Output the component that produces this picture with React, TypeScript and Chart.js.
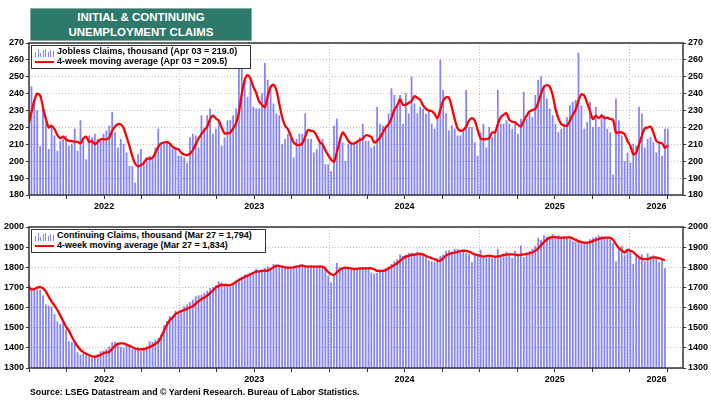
import React, { useEffect, useRef } from 'react';
import { Chart, registerables } from 'chart.js';

Chart.register(...registerables);

const FONT = 'Arial, "Liberation Sans", Helvetica, sans-serif';
const BAR_COLOR = 'rgba(118,118,255,0.9)';
const LINE_COLOR = '#ff0000';
const GRID_COLOR = '#bdbdbd';

// weekly observations, first week ending 2021-12-31
const firstWeekUTC = Date.UTC(2021, 11, 31);
const yearLabels = [2022, 2023, 2024, 2025, 2026];
const xMin = 2022;
const xMax = 2026.353;

const topYTicks = [180, 190, 200, 210, 220, 230, 240, 250, 260, 270];
const bottomYTicks = [1300, 1400, 1500, 1600, 1700, 1800, 1900, 2000];

// Initial jobless claims, thousand (weekly)
const joblessClaims = [
  247, 244, 236, 230, 209, 232, 222, 207, 220, 215,
  206, 212, 213, 215, 209, 210, 219, 206, 224, 212,
  201, 215, 214, 216, 213, 213, 216, 218, 221, 229,
  217, 208, 213, 210, 205, 197, 197, 187, 204, 207,
  200, 202, 203, 201, 208, 219, 209, 210, 211, 210,
  207, 207, 203, 203, 202, 199, 214, 216, 215, 208,
  227, 219, 227, 231, 216, 219, 223, 209, 214, 224,
  224, 227, 231, 258, 257, 249, 238, 248, 232, 231,
  231, 240, 258, 248, 245, 234, 228, 227, 210, 213,
  216, 214, 202, 213, 216, 216, 228, 213, 213, 205,
  207, 213, 213, 198, 198, 194, 221, 225, 214, 211,
  200, 210, 211, 210, 211, 214, 222, 212, 212, 208,
  209, 232, 222, 221, 221, 228, 243, 239, 233, 239,
  222, 240, 228, 250, 234, 228, 232, 231, 228, 229,
  222, 219, 226, 260, 242, 228, 218, 221, 219, 215,
  215, 219, 242, 220, 220, 211, 203, 217, 222, 208,
  220, 214, 217, 242, 222, 222, 224, 222, 219, 222,
  216, 225, 241, 225, 228, 226, 239, 248, 250, 245,
  237, 231, 227, 222, 217, 219, 222, 226, 233, 235,
  236, 264, 233, 219, 223, 235, 220, 232, 220, 228,
  227, 219, 217, 192, 237, 224, 215, 200, 205, 199,
  210, 209, 232, 228, 208, 213, 214, 211, 205, 210,
  203, 219, 219,
];

// 4-week moving average of initial claims
const joblessMA = [
  222, 229, 236, 240, 239, 232, 225, 220, 221, 219,
  215.5, 213.5, 214.5, 213, 212, 212, 211.5, 211.5, 210.5, 213.5,
  214.5, 211.5, 212, 210, 211.5, 213, 213, 213, 214, 218,
  220.5, 222, 221.8, 219.5, 214.5, 209, 203, 198.5, 197, 197.7,
  199, 201.5, 201.5, 202, 205, 208.5, 210.5, 211, 211.5, 210.5,
  208.5, 207.5, 207, 205, 204, 203.6, 204.5, 206.5, 210, 213.5,
  216, 218.5, 220.5, 225, 227, 225.3, 224, 220, 216.5, 216.5,
  217, 219.5, 222.4, 229, 240, 248, 251, 249, 244, 240.5,
  235.3, 233.5, 232, 238.5, 244, 245.3, 242, 234, 226, 221,
  219, 215, 211, 209.8, 209.6, 210.5, 214.5, 218.5, 218, 217.6,
  215, 211.5, 210, 206.5, 203.5, 201, 199.7, 205.5, 212, 217,
  215, 212, 210.6, 210.6, 211.5, 212.6, 213.2, 215.3, 215.2, 214.3,
  211, 212, 214, 217, 220, 221.8, 225.5, 230.5, 233, 236.8,
  233.3, 233.5, 234.5, 235.7, 238.5, 237.5, 236.3, 233, 231, 230,
  229.7, 228, 225.5, 230.5, 236, 237.8, 237.6, 232, 225, 219.5,
  218, 218.5, 220.5, 224, 225.5, 224, 218.5, 213.5, 213, 213.2,
  213.6, 217, 217.1, 222, 226, 227.5, 228.4, 224.5, 223.4, 223,
  221.5, 220.5, 224, 227, 229.5, 230.3, 231, 234.5, 240, 244,
  245.1, 244.2, 239.5, 231, 225.5, 222, 221.2, 221, 224, 227.5,
  230.5, 236, 239.6, 238.8, 234.5, 229.5, 225, 227, 225.5, 227,
  225.5, 225.8, 225, 224.4, 217, 217.1, 217.1, 216, 212, 209,
  204.1, 205, 210, 215, 219.5, 219.9, 220.5, 217, 212, 211,
  210.6, 208, 209.5,
];

// Continuing claims, thousand (weekly)
const continuingClaims = [
  1720, 1695, 1692, 1687, 1687, 1659, 1613, 1609, 1604, 1566,
  1530, 1517, 1530, 1489, 1431, 1427, 1422, 1376, 1364, 1373,
  1360, 1356, 1348, 1356, 1364, 1381, 1384, 1394, 1406, 1426,
  1427, 1419, 1403, 1398, 1414, 1401, 1393, 1393, 1401, 1384,
  1394, 1406, 1431, 1427, 1439, 1447, 1464, 1510, 1530, 1555,
  1555, 1583, 1580, 1583, 1604, 1613, 1626, 1638, 1654, 1659,
  1662, 1671, 1682, 1695, 1700, 1709, 1729, 1724, 1712, 1707,
  1715, 1712, 1729, 1740, 1748, 1762, 1765, 1762, 1775, 1791,
  1778, 1787, 1795, 1803, 1795, 1815, 1803, 1798, 1798, 1795,
  1803, 1795, 1798, 1806, 1811, 1815, 1808, 1795, 1808, 1803,
  1803, 1808, 1803, 1803, 1758, 1724, 1758, 1820, 1798, 1795,
  1795, 1798, 1795, 1790, 1795, 1791, 1798, 1800, 1795, 1772,
  1768, 1770, 1780, 1787, 1795, 1803, 1815, 1828, 1840, 1862,
  1855, 1860, 1870, 1872, 1868, 1875, 1870, 1860, 1848, 1833,
  1828, 1826, 1844, 1855, 1862, 1880, 1883, 1875, 1890, 1890,
  1880, 1885, 1868, 1864, 1825, 1858, 1860, 1886, 1855, 1850,
  1858, 1845, 1855, 1890, 1858, 1865, 1875, 1870, 1844, 1880,
  1860, 1907, 1850, 1868, 1880, 1890, 1905, 1945, 1935, 1958,
  1950, 1945, 1963, 1945, 1958, 1948, 1952, 1942, 1938, 1930,
  1925, 1928, 1918, 1922, 1920, 1938, 1945, 1950, 1958, 1952,
  1945, 1940, 1935, 1920, 1828, 1886, 1905, 1861, 1890, 1880,
  1815, 1853, 1845, 1862, 1830, 1868, 1853, 1858, 1848, 1825,
  1840, 1794,
];

// 4-week moving average of continuing claims
const continuingMA = [
  1704, 1690, 1692, 1699, 1702, 1695, 1679, 1654, 1630, 1610,
  1588, 1560, 1533, 1505, 1484, 1455, 1430, 1408, 1390, 1379,
  1370, 1364, 1358, 1356, 1360, 1365, 1373, 1377, 1381, 1395,
  1410, 1420, 1422, 1422, 1416, 1410, 1403, 1397, 1393, 1393,
  1394, 1398, 1403, 1411, 1420, 1430, 1454, 1485, 1515, 1538,
  1550, 1568, 1576, 1583, 1588, 1593, 1602, 1606, 1620, 1632,
  1642, 1650, 1659, 1672, 1685, 1700, 1708, 1712, 1712, 1712,
  1712, 1718, 1728, 1737, 1745, 1752, 1758, 1766, 1772, 1778,
  1780, 1782, 1783, 1783, 1792, 1800, 1808, 1806, 1803, 1800,
  1798, 1798, 1800, 1803, 1806, 1808, 1805, 1803, 1803, 1803,
  1803, 1803, 1803, 1792, 1776, 1765, 1762, 1775, 1787, 1795,
  1798, 1796, 1795, 1791, 1792, 1794, 1795, 1795, 1795, 1795,
  1790, 1782, 1782, 1782, 1786, 1794, 1802, 1812, 1820, 1832,
  1844, 1853, 1857, 1861, 1863, 1866, 1866, 1864, 1856, 1850,
  1845, 1840, 1833, 1833, 1846, 1858, 1866, 1870, 1873, 1877,
  1880, 1883, 1881, 1878, 1871, 1864, 1860, 1856, 1853, 1856,
  1858, 1855, 1853, 1854, 1857, 1861, 1863, 1864, 1864, 1863,
  1861, 1862, 1864, 1867, 1869, 1875, 1882, 1893, 1910, 1925,
  1938, 1947, 1950, 1950, 1947, 1947, 1947, 1948, 1949, 1943,
  1936, 1930, 1925, 1922, 1922, 1925, 1930, 1936, 1940, 1945,
  1947, 1947, 1946, 1937, 1915, 1895, 1884, 1873, 1886, 1882,
  1876, 1862, 1850, 1841, 1841, 1841, 1846, 1849, 1848, 1845,
  1840, 1834,
];

const DAY = 86400000;
function weekX(k: number): number {
  const ms = firstWeekUTC + k * 7 * DAY;
  const y = new Date(ms).getUTCFullYear();
  const s = Date.UTC(y, 0, 1);
  const e = Date.UTC(y + 1, 0, 1);
  return y + (ms - s) / (e - s);
}

function labelPos(year: number): number {
  const end = Math.min(year + 1, xMax);
  return (year + end) / 2;
}

const near = (a: number, b: number) => Math.abs(a - b) < 1e-6;

function buildXTicks(): number[] {
  const vals: number[] = [];
  for (let q = xMin; q <= xMax + 1e-9; q += 0.25) vals.push(Math.round(q * 100) / 100);
  yearLabels.forEach((y) => {
    const p = labelPos(y);
    if (!vals.some((v) => near(v, p))) vals.push(p);
  });
  return vals.sort((a, b) => a - b);
}

const xTickVals = buildXTicks();
const isQuarter = (v: number) => near(v * 4, Math.round(v * 4));
const isYearLine = (v: number) => near(v, Math.round(v)) && v > xMin + 0.01 && v < xMax;

const framePlugin = {
  id: 'frame',
  afterDraw(chart: any) {
    const { ctx, chartArea: a } = chart;
    ctx.save();
    ctx.strokeStyle = '#333';
    ctx.lineWidth = 1.5;
    ctx.strokeRect(a.left, a.top, a.right - a.left, a.bottom - a.top);
    ctx.restore();
  },
};

const tickFont = { family: FONT, size: 9, weight: 'bold' as const };

function buildConfig(bars: number[], ma: number[], yTicks: number[], padTop: number, padBottom: number, xAxisH: number) {
  const yMin = yTicks[0];
  const yMax = yTicks[yTicks.length - 1];
  const yStep = yTicks[1] - yTicks[0];
  const yCommon = {
    type: 'linear',
    min: yMin,
    max: yMax,
    ticks: {
      stepSize: yStep,
      padding: 2,
      color: '#000',
      font: tickFont,
      callback: (v: number) => String(v),
    },
  };
  return {
    type: 'bar',
    data: {
      datasets: [
        {
          type: 'line',
          data: ma.map((v, k) => ({ x: weekX(k), y: v })),
          borderColor: LINE_COLOR,
          borderWidth: 2.3,
          pointRadius: 0,
          tension: 0.3,
          fill: false,
          order: 0,
        },
        {
          type: 'bar',
          data: bars.map((v, k) => ({ x: weekX(k), y: v })),
          backgroundColor: BAR_COLOR,
          borderWidth: 0,
          barThickness: 1.1,
          order: 1,
        },
      ],
    },
    options: {
      animation: false,
      responsive: false,
      events: [],
      layout: { padding: { top: padTop, bottom: padBottom, left: 0, right: 0 } },
      plugins: { legend: { display: false }, tooltip: { enabled: false }, title: { display: false } },
      scales: {
        x: {
          type: 'linear',
          min: xMin,
          max: xMax,
          offset: false,
          afterBuildTicks: (scale: any) => {
            scale.ticks = xTickVals.map((v) => ({ value: v }));
          },
          afterFit: (scale: any) => {
            scale.height = xAxisH;
          },
          grid: {
            offset: false,
            lineWidth: 1,
            tickLength: 4,
            color: (c: any) => (c.tick && isYearLine(c.tick.value) ? GRID_COLOR : 'rgba(0,0,0,0)'),
            tickColor: (c: any) => (c.tick && isQuarter(c.tick.value) ? '#333' : 'rgba(0,0,0,0)'),
          },
          border: { display: false, dash: [1, 2] },
          ticks: {
            autoSkip: false,
            maxRotation: 0,
            minRotation: 0,
            padding: 2,
            color: '#000',
            font: tickFont,
            callback: (v: number) => {
              const y = yearLabels.find((yy) => near(labelPos(yy), v));
              return y === undefined ? '' : String(y);
            },
          },
        },
        y: {
          ...yCommon,
          position: 'left',
          afterFit: (scale: any) => {
            scale.width = 29;
          },
          grid: { color: GRID_COLOR, lineWidth: 1, tickLength: 3, tickColor: '#333' },
          border: { display: false, dash: [1, 2] },
        },
        y2: {
          ...yCommon,
          position: 'right',
          afterFit: (scale: any) => {
            scale.width = 28;
          },
          grid: { drawOnChartArea: false, tickLength: 3, tickColor: '#333' },
          border: { display: false },
        },
      },
    },
    plugins: [framePlugin],
  };
}

function ChartCanvas({ cfg, width, height, top }: { cfg: any; width: number; height: number; top: number }) {
  const ref = useRef<HTMLCanvasElement | null>(null);
  useEffect(() => {
    if (!ref.current) return;
    const chart = new Chart(ref.current, cfg);
    return () => chart.destroy();
  }, [cfg]);
  return (
    <canvas
      ref={ref}
      width={width}
      height={height}
      style={{ position: 'absolute', left: 0, top, width, height }}
    />
  );
}

const barIconHeights = [5, 8, 4, 7, 8, 5, 7, 6];

function BarIcon() {
  return (
    <span style={{ position: 'absolute', left: 3, top: 2, width: 20, height: 9, display: 'block' }}>
      {barIconHeights.map((h, i) => (
        <span
          key={i}
          style={{
            position: 'absolute',
            left: i * 2.5,
            bottom: 0,
            width: 1.2,
            height: h,
            background: BAR_COLOR,
          }}
        />
      ))}
    </span>
  );
}

function Legend({ left, top, width, line1, line2 }: { left: number; top: number; width: number; line1: string; line2: string }) {
  const text: React.CSSProperties = {
    position: 'absolute',
    left: 25,
    fontFamily: FONT,
    fontWeight: 'bold',
    fontSize: 9,
    lineHeight: '11px',
    whiteSpace: 'nowrap',
    color: '#000',
  };
  return (
    <div
      style={{
        position: 'absolute',
        left,
        top,
        width,
        height: 24,
        boxSizing: 'border-box',
        border: '1.5px solid #333',
        background: '#fff',
      }}
    >
      <BarIcon />
      <span style={{ ...text, top: 0 }}>{line1}</span>
      <span
        style={{ position: 'absolute', left: 3, top: 15, width: 19, height: 2, background: LINE_COLOR, display: 'block' }}
      />
      <span style={{ ...text, top: 10 }}>{line2}</span>
    </div>
  );
}

export default function App() {
  const topCfg = React.useMemo(() => buildConfig(joblessClaims, joblessMA, topYTicks, 43, 0, 20), []);
  const bottomCfg = React.useMemo(() => buildConfig(continuingClaims, continuingMA, bottomYTicks, 12, 15, 17), []);
  return (
    <div style={{ position: 'absolute', left: 0, top: 0, width: 711, height: 400, background: '#fff', overflow: 'hidden' }}>
      <ChartCanvas cfg={topCfg} width={711} height={215} top={0} />
      <ChartCanvas cfg={bottomCfg} width={711} height={185} top={215} />
      <div
        style={{
          position: 'absolute',
          left: 30,
          top: 8,
          width: 222,
          height: 33,
          boxSizing: 'border-box',
          background: '#2d7a6a',
          border: '1px solid #8aa',
          color: '#fff',
          fontFamily: FONT,
          fontWeight: 'bold',
          fontSize: 11.5,
          lineHeight: '15px',
          textAlign: 'center',
          paddingTop: 1,
        }}
      >
        <div>INITIAL &amp; CONTINUING</div>
        <div>UNEMPLOYMENT CLAIMS</div>
      </div>
      <Legend
        left={31}
        top={45}
        width={220}
        line1="Jobless Claims, thousand (Apr 03 = 219.0)"
        line2="4-week moving average (Apr 03 = 209.5)"
      />
      <Legend
        left={31}
        top={229}
        width={235}
        line1="Continuing Claims, thousand (Mar 27 = 1,794)"
        line2="4-week moving average (Mar 27 = 1,834)"
      />
      <div
        style={{
          position: 'absolute',
          left: 30,
          top: 387,
          fontFamily: FONT,
          fontWeight: 'bold',
          fontSize: 8.8,
          lineHeight: '11px',
          whiteSpace: 'nowrap',
          color: '#000',
        }}
      >
        Source: LSEG Datastream and © Yardeni Research. Bureau of Labor Statistics.
      </div>
    </div>
  );
}
